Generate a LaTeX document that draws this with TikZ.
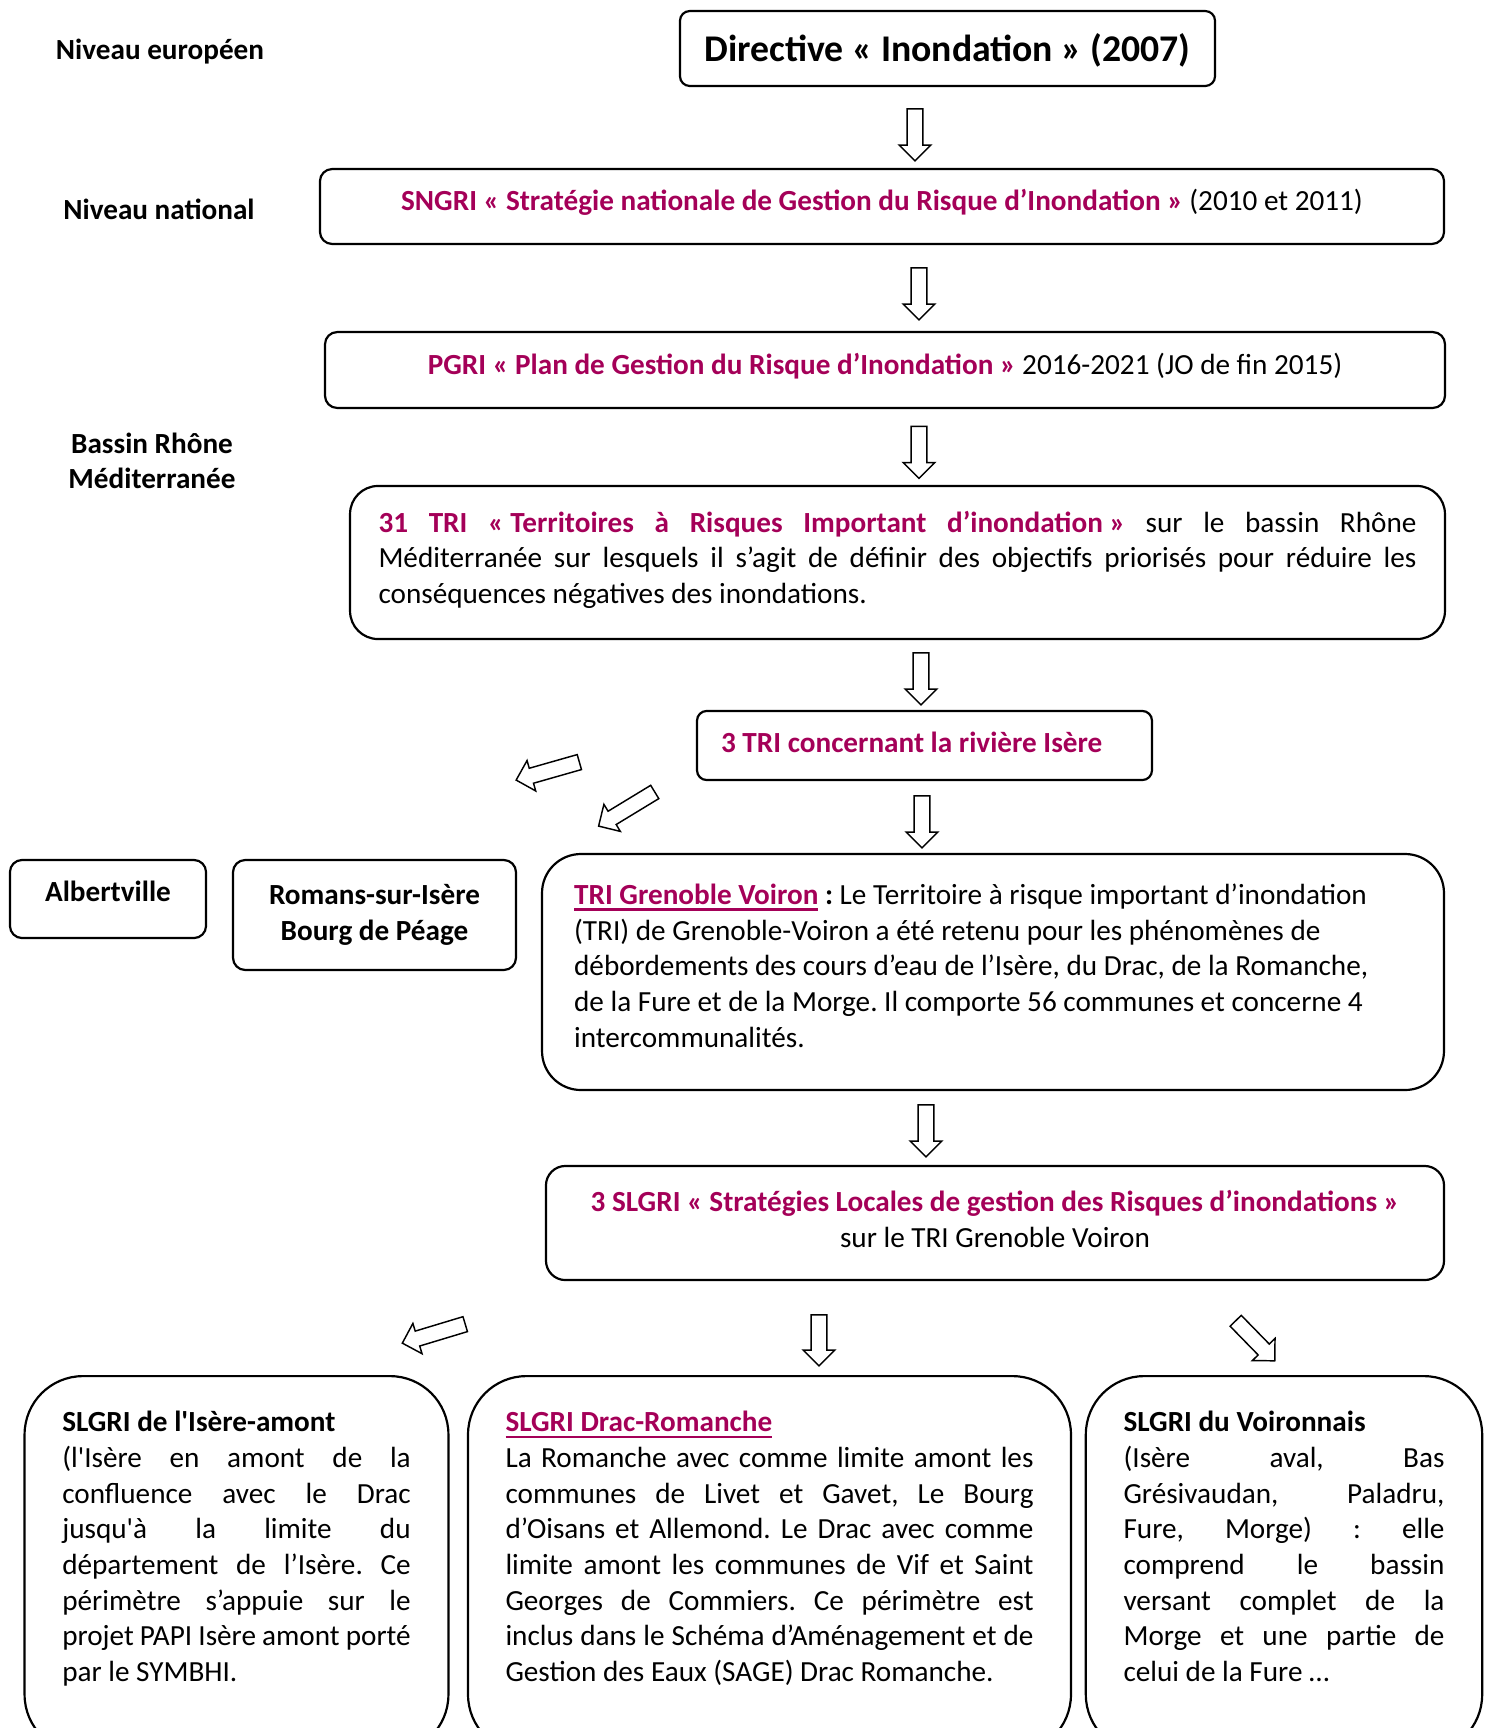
\documentclass[tikz,border=0pt]{standalone}
\usepackage{fontspec}
\setmainfont{Carlito}
\usepackage{tikz}
\usetikzlibrary{positioning}
\usetikzlibrary{shapes,shapes.arrows}
\definecolor{risque}{RGB}{164,0,88}
\newcommand{\txt}{\fontsize{12pt}{14.65pt}\selectfont}
\newcommand{\fsp}{\nobreak\hspace{.226em}}
\newcommand{\descend}[1]{\rule[-#1]{0pt}{#1}}
\newcommand{\rouge}[1]{\textcolor{risque}{\textbf{#1}}}
\newcommand{\souligne}[1]{\textcolor{risque}{\textbf{\setbox0\hbox{#1}\rlap{\vrule width\wd0 height -1.6pt depth 2.5pt}\box0}}}
\frenchspacing
\tikzset{main box/.style={draw,rounded corners=5pt,line width=0.9pt,inner sep=0pt,font=\txt},
  level/.style={font=\txt\bfseries,align=center,inner sep=0pt},
  big arrow/.style={single arrow,draw,fill=white,line width=0.6pt,inner xsep=0pt,inner ysep=2.9pt,
    minimum width=0pt,single arrow head extend=3.3pt,single arrow tip angle=90,minimum height=21.4pt},
  slgri box/.style={main box,rounded corners=24pt,anchor=north,align=justify,inner xsep=15.5pt,
    inner ysep=0pt,text height=22.9pt,text depth=132pt},}

\begin{document}
\begin{tikzpicture}[x=0.411pt,y=-0.411pt]
    \useasboundingbox (0,0) rectangle (1489,1728);
    \clip (0,0) rectangle (1489,1728);

    \node[level] (europe) at (160,52) {Niveau européen};
    \node[level] (national) at (159,209) {Niveau national};
    \node[level] (bassin) at (152,461) {Bassin Rhône\\Méditerranée};

    \node[main box,rounded corners=4pt,minimum width=219.9pt,minimum height=30.8pt,text height=14pt,text depth=3.1pt,
      font=\fontsize{15.5pt}{19pt}\selectfont\bfseries] (directive) at (947.5,48.5) {Directive «\fsp Inondation\fsp» (2007)};
    \node[main box,minimum width=462pt,minimum height=30.8pt,text depth=5.4pt] (sngri) at (882,206.5)
      {\rouge{SNGRI «\fsp Stratégie nationale de Gestion du Risque d'Inondation\fsp»} (2010 et 2011)};
    \node[main box,minimum width=460.3pt,minimum height=31.2pt,text depth=5.4pt] (pgri) at (885,370)
      {\rouge{PGRI «\fsp Plan de Gestion du Risque d'Inondation\fsp»} 2016-2021 (JO de fin 2015)};
    \node[main box,rounded corners=11.5pt,minimum height=62.9pt,text width=426.6pt,inner xsep=11.7pt,
      align=justify] (tri31) at (897.5,562.5)
      {\rouge{31 TRI «\fsp Territoires à Risques Important d'inondation\fsp»} sur le bassin Rhône\linebreak
      Méditerranée sur lesquels il s'agit de définir des objectifs priorisés pour réduire les\linebreak
      conséquences négatives des inondations.\descend{4.3pt}};
    \node[main box,rounded corners=4pt,minimum height=28.4pt,text width=167.2pt,inner xsep=9.9pt,
      align=justify] (tri3) at (924.5,745.5) {\rouge{3 TRI concernant la rivière Isère}\descend{2.7pt}};

    \node[main box,minimum width=80.6pt,minimum height=32.1pt,font=\txt\bfseries,text depth=6.3pt] (albertville) at (108,899) {Albertville};
    \node[main box,minimum width=116.3pt,minimum height=45.2pt,font=\txt\bfseries,align=center] (romans) at (374.5,915)
      {Romans-sur-Isère\\Bourg de Péage};
    \node[main box,rounded corners=16pt,minimum height=97pt,text width=344.3pt,inner xsep=13.2pt,
      align=justify] (grenoble) at (993,972)
      {\souligne{TRI Grenoble Voiron} \textbf{:} Le Territoire à risque important d'inondation\\
      (TRI) de Grenoble-Voiron a été retenu pour les phénomènes de\\
      débordements des cours d'eau de l'Isère, du Drac, de la Romanche,\\
      de la Fure et de la Morge. Il comporte 56 communes et concerne 4\\
      intercommunalités.\descend{5.4pt}};
    \node[main box,rounded corners=8pt,minimum width=369.1pt,minimum height=46.9pt,align=center] (slgri) at (995,1223)
      {\rouge{3 SLGRI «\fsp Stratégies Locales de gestion des Risques d'inondations\fsp»}\\sur le TRI Grenoble Voiron\descend{3.6pt}};

    \node[slgri box,text width=143.2pt] (amont) at (236.5,1375)
      {\textbf{SLGRI de l\textquotesingle Isère-amont}\\
      (l\textquotesingle Isère en amont de la\linebreak confluence avec le Drac\linebreak
      jusqu\textquotesingle à la limite du\linebreak département de l'Isère. Ce\linebreak
      périmètre s'appuie sur le\linebreak projet PAPI Isère amont porté\linebreak par le SYMBHI.};
    \node[slgri box,text width=217pt,inner xsep=15.4pt] (drac) at (769.5,1375)
      {\souligne{SLGRI Drac-Romanche}\\
      La Romanche avec comme limite amont les\linebreak communes de Livet et Gavet, Le Bourg\linebreak
      d'Oisans et Allemond. Le Drac avec comme\linebreak limite amont les communes de Vif et Saint\linebreak
      Georges de Commiers. Ce périmètre est\linebreak inclus dans le Schéma d'Aménagement et de\linebreak
      Gestion des Eaux (SAGE) Drac Romanche.};
    \node[slgri box,text width=131.9pt] (voiron) at (1284,1375)
      {\textbf{SLGRI du Voironnais}\\
      (Isère aval, Bas\linebreak Grésivaudan, Paladru,\linebreak Fure, Morge) : elle\linebreak
      comprend le bassin\linebreak versant complet de la\linebreak Morge et une partie de\linebreak
      celui de la Fure …};

    \node[big arrow,rotate=-90] (a1) at (915,131) {};
    \node[big arrow,rotate=-90] (a2) at (919,290) {};
    \node[big arrow,rotate=-90] (a3) at (919,448.5) {};
    \node[big arrow,rotate=-90] (a4) at (921,675) {};
    \node[big arrow,rotate=-90] (a5) at (922,818) {};
    \node[big arrow,rotate=195.9,minimum height=27pt] (a6) at (551.5,770) {};
    \node[big arrow,rotate=211.3,minimum height=27pt] (a7) at (630,807) {};
    \node[big arrow,rotate=-90] (a8) at (926,1127) {};
    \node[big arrow,rotate=196.8,minimum height=27pt] (a9) at (437.5,1332.5) {};
    \node[big arrow,rotate=-90,minimum height=21pt] (a10) at (819,1336.5) {};
    \node[big arrow,rotate=-45.7,minimum height=23pt] (a11) at (1252.5,1338) {};
\end{tikzpicture}
\end{document}
